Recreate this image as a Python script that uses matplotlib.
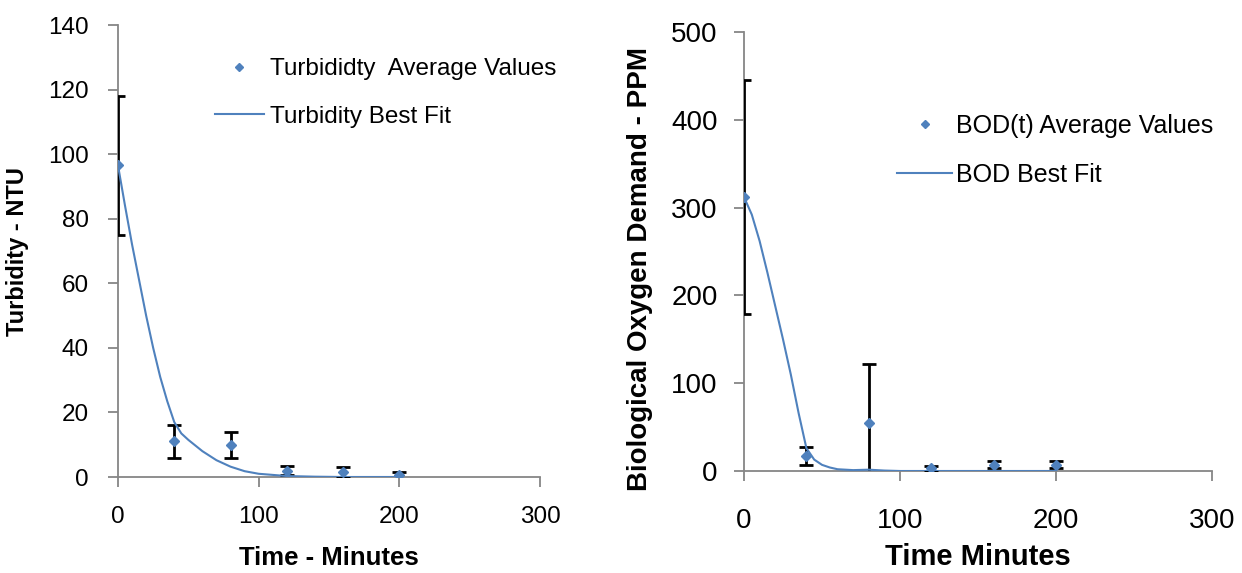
import matplotlib
matplotlib.use('Agg')
import matplotlib.pyplot as plt

plt.rcParams['font.family'] = ['Liberation Sans', 'DejaVu Sans']

# Turbidity data (minutes, NTU)
turb_t = [0, 40, 80, 120, 160, 200]
turb_avg = [96.5, 11, 10, 2, 1.5, 0.5]
turb_err = [21.5, 5, 4, 1.5, 1.5, 1]

# Turbidity best fit curve
turb_fit_t = [0, 5, 10, 15, 20, 25, 30, 35, 40, 45, 50, 60, 70, 80, 90, 100, 120, 140, 160, 180, 200]
turb_fit = [96.5, 84, 72, 61, 50, 40, 31, 23.5, 17, 13.5, 11.5, 8, 5.2, 3.2, 1.8, 1.0, 0.3, 0.1, 0, 0, 0]

# BOD data (minutes, PPM)
bod_t = [0, 40, 80, 120, 160, 200]
bod_avg = [312, 17, 55, 3, 7, 7]
bod_err = [133, 10.5, 67, 3, 4, 4]

# BOD best fit curve
bod_fit_t = [0, 5, 10, 15, 20, 25, 30, 35, 40, 45, 50, 55, 60, 70, 80, 90, 100, 120, 140, 160, 180, 200]
bod_fit = [312, 292, 262, 226, 188, 150, 110, 66, 26, 13, 7, 4, 2, 1, 1.5, 0.5, 0, 0, 0, 0, 0, 0]

blue = '#4F81BD'
grey = '#868686'

fig = plt.figure(figsize=(12.42, 5.73), dpi=100)
ax1 = fig.add_axes([118 / 1242, 1 - 477 / 573, (540 - 118) / 1242, (477 - 25) / 573])
ax2 = fig.add_axes([744 / 1242, 1 - 471 / 573, (1212 - 744) / 1242, (471 - 32) / 573])


def style_axes(ax, tick_size, pad_x, pad_y):
    for side in ['top', 'right']:
        ax.spines[side].set_visible(False)
    for side in ['left', 'bottom']:
        ax.spines[side].set_color(grey)
        ax.spines[side].set_linewidth(1.3)
    ax.tick_params(axis='both', colors=grey, length=7, width=1.3, labelcolor='black',
                   labelsize=tick_size)
    ax.tick_params(axis='x', pad=pad_x)
    ax.tick_params(axis='y', pad=pad_y)


# Left: turbidity
ax1.errorbar(turb_t, turb_avg, yerr=turb_err, fmt='none', ecolor='black',
             elinewidth=2, capsize=5, capthick=2, zorder=3)
ax1.plot(turb_t, turb_avg, linestyle='none', marker='D', markersize=5, color=blue,
         zorder=4, label='Turbididty  Average Values')
ax1.plot(turb_fit_t, turb_fit, color=blue, linewidth=1.5, zorder=3, label='Turbidity Best Fit')
ax1.set_xlim(0, 300)
ax1.set_ylim(0, 140)
ax1.set_xticks([0, 100, 200, 300])
ax1.set_yticks(range(0, 141, 20))
style_axes(ax1, 17.5, 14, 14)
ax1.set_xlabel('Time - Minutes', fontsize=18.5, fontweight='bold', labelpad=13)
ax1.set_ylabel('Turbidity - NTU', fontsize=17, fontweight='bold', labelpad=14)
ax1.legend(loc='upper left', bbox_to_anchor=(215 / 1242, 1 - 58 / 573),
           bbox_transform=fig.transFigure, frameon=False, fontsize=17.5,
           borderpad=0, borderaxespad=0, handlelength=2.0, handletextpad=0.25,
           labelspacing=1.05, markerscale=0.8)

# Right: BOD
ax2.errorbar(bod_t, bod_avg, yerr=bod_err, fmt='none', ecolor='black',
             elinewidth=2, capsize=5, capthick=2, zorder=3)
ax2.plot(bod_t, bod_avg, linestyle='none', marker='D', markersize=5, color=blue,
         zorder=4, label='BOD(t) Average Values')
ax2.plot(bod_fit_t, bod_fit, color=blue, linewidth=1.5, zorder=3, label='BOD Best Fit')
ax2.set_xlim(0, 300)
ax2.set_ylim(0, 500)
ax2.set_xticks([0, 100, 200, 300])
ax2.set_yticks(range(0, 501, 100))
style_axes(ax2, 20, 20, 12)
ax2.set_xlabel('Time Minutes', fontsize=21, fontweight='bold', labelpad=6)
ax2.set_ylabel('Biological Oxygen Demand - PPM', fontsize=20, fontweight='bold')
ax2.yaxis.set_label_coords(-0.195, 0.46)
ax2.legend(loc='upper left', bbox_to_anchor=(897 / 1242, 1 - 114 / 573),
           bbox_transform=fig.transFigure, frameon=False, fontsize=18,
           borderpad=0, borderaxespad=0, handlelength=2.2, handletextpad=0.15,
           labelspacing=1.0, markerscale=0.8)

fig.savefig('out.png', dpi=100)
